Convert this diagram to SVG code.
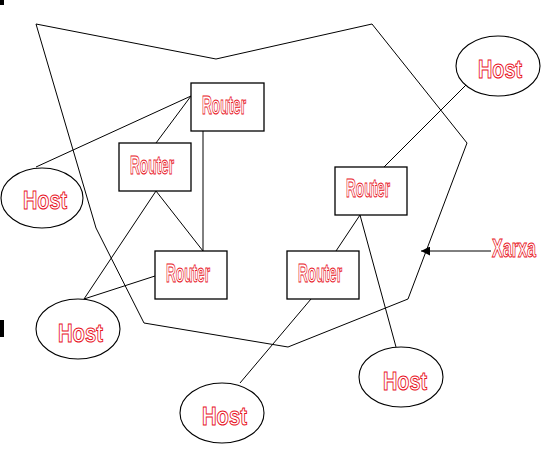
<svg xmlns="http://www.w3.org/2000/svg" width="550" height="457" viewBox="0 0 550 457">
<style>
.ln{stroke:#000;stroke-width:1;fill:none}
.box{fill:#fff;stroke:#000;stroke-width:1.3}
.ell{fill:#fff;stroke:#000;stroke-width:1.1}
.lbl{font-family:"Liberation Sans Narrow","Liberation Sans",Arial,sans-serif;font-weight:bold;font-size:25px;fill:#fff;stroke:#e8101c;stroke-width:1}
</style>
<defs>
<marker id="arr" viewBox="0 0 10 10" refX="10" refY="5" markerWidth="9" markerHeight="9" markerUnits="userSpaceOnUse" orient="auto">
<path d="M0,0 L10,5 L0,10 z" fill="#000"/>
</marker>
</defs>
<rect x="0" y="0" width="4" height="5" fill="#000"/>
<rect x="0" y="320" width="4" height="17" fill="#000"/>
<polygon id="xarxa-area" class="ln" points="36,24 216,59 372,24 467,143 408,299 288,347 144,323 96,228"/>
<g id="connectors">
<line class="ln" x1="36" y1="167" x2="191" y2="96"/>
<line class="ln" x1="156" y1="143" x2="191" y2="96"/>
<line class="ln" x1="203" y1="131" x2="203" y2="251"/>
<line class="ln" x1="156" y1="191" x2="84" y2="299"/>
<line class="ln" x1="156" y1="191" x2="203" y2="251"/>
<line class="ln" x1="84" y1="299" x2="155" y2="276"/>
<line class="ln" x1="384" y1="167" x2="468" y2="83"/>
<line class="ln" x1="360" y1="215" x2="336" y2="251"/>
<line class="ln" x1="311" y1="299" x2="240" y2="383"/>
<line class="ln" x1="360" y1="215" x2="396" y2="347"/>
<line class="ln" x1="491" y1="251" x2="421" y2="251" marker-end="url(#arr)"/>
</g>
<g id="router1"><rect class="box" x="191" y="83" width="73" height="48"/><text class="lbl" x="202" y="114" textLength="44" lengthAdjust="spacingAndGlyphs">Router</text></g>
<g id="router2"><rect class="box" x="119" y="143" width="72" height="48"/><text class="lbl" x="130" y="174" textLength="44" lengthAdjust="spacingAndGlyphs">Router</text></g>
<g id="router3"><rect class="box" x="155" y="251" width="72" height="48"/><text class="lbl" x="166" y="282" textLength="44" lengthAdjust="spacingAndGlyphs">Router</text></g>
<g id="router4"><rect class="box" x="335" y="167" width="72" height="48"/><text class="lbl" x="346" y="197" textLength="44" lengthAdjust="spacingAndGlyphs">Router</text></g>
<g id="router5"><rect class="box" x="287" y="251" width="72" height="48"/><text class="lbl" x="298" y="282" textLength="44" lengthAdjust="spacingAndGlyphs">Router</text></g>
<g id="host1"><ellipse class="ell" cx="42" cy="198" rx="41" ry="30"/><text class="lbl" x="23" y="209" textLength="44" lengthAdjust="spacingAndGlyphs">Host</text></g>
<g id="host2"><ellipse class="ell" cx="498" cy="66" rx="42" ry="30"/><text class="lbl" x="478" y="78" textLength="44" lengthAdjust="spacingAndGlyphs">Host</text></g>
<g id="host3"><ellipse class="ell" cx="78" cy="329" rx="42" ry="30"/><text class="lbl" x="58" y="342" textLength="45" lengthAdjust="spacingAndGlyphs">Host</text></g>
<g id="host4"><ellipse class="ell" cx="222" cy="413" rx="42" ry="30"/><text class="lbl" x="202" y="425" textLength="45" lengthAdjust="spacingAndGlyphs">Host</text></g>
<g id="host5"><ellipse class="ell" cx="401" cy="377" rx="42" ry="30"/><text class="lbl" x="383" y="390" textLength="44" lengthAdjust="spacingAndGlyphs">Host</text></g>
<g id="label-xarxa"><text class="lbl" x="492" y="257" textLength="44" lengthAdjust="spacingAndGlyphs">Xarxa</text></g>
</svg>
